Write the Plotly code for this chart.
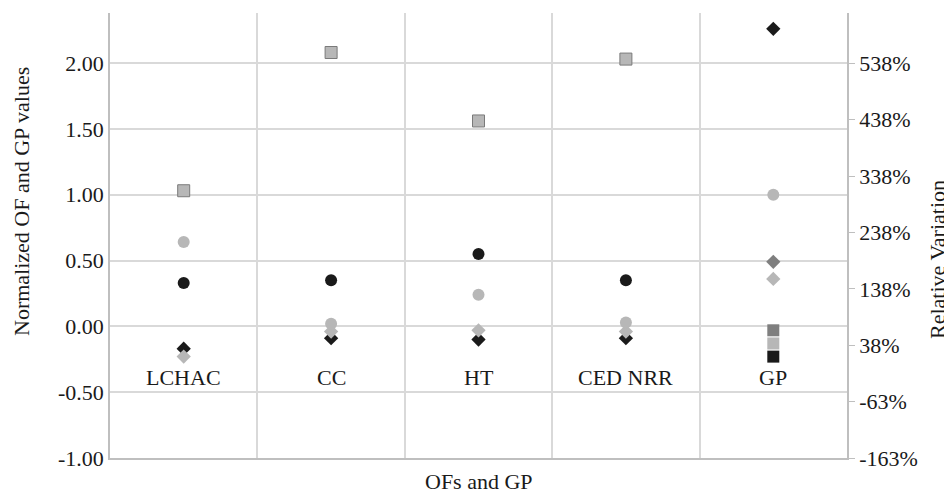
import plotly.graph_objects as go

categories = ["LCHAC", "CC", "HT", "CED NRR", "GP"]

black_diamond = [-0.17, -0.09, -0.10, -0.09, 2.26]
light_diamond = [-0.23, -0.04, -0.03, -0.04, 0.36]
black_circle = [0.33, 0.35, 0.55, 0.35, None]
light_circle = [0.64, 0.02, 0.24, 0.03, 1.00]
gray_square = [1.03, 2.08, 1.56, 2.03, None]
dark_diamond = [None, None, None, None, 0.49]
gp_dark_square = [None, None, None, None, -0.03]
gp_light_square = [None, None, None, None, -0.13]
gp_black_square = [None, None, None, None, -0.23]

left_ticks = [-1.0, -0.5, 0.0, 0.5, 1.0, 1.5, 2.0]
left_ticktext = ["-1.00", "-0.50", "0.00", "0.50", "1.00", "1.50", "2.00"]
right_ticks = [-1.625, -0.625, 0.375, 1.375, 2.375, 3.375, 4.375, 5.375]
right_ticktext = ["-163%", "-63%", "38%", "138%", "238%", "338%", "438%", "538%"]

FONT = "Liberation Serif, Times New Roman, serif"
FS = 22
BLACK = "#1a1a1a"
LIGHT = "#b7b7b7"
DARK = "#7f7f7f"
GRID = "#d9d9d9"
AXIS = "#bfbfbf"

# page body has an 8px default margin; figure is sized to compensate
W, H = 944, 486
ML, MR, MT, MB = 102, 105, 5, 36
PH = H - MT - MB

xs = list(range(len(categories)))

fig = go.Figure()

def add(vals, symbol, size, color, name, line_color=None):
    fig.add_trace(go.Scatter(
        x=xs, y=vals, mode="markers", name=name,
        marker=dict(symbol=symbol, size=size, color=color,
                    line=dict(width=1 if line_color else 0, color=line_color or color)),
        showlegend=False, cliponaxis=False))

add(black_diamond, "diamond", 11, BLACK, "Black diamond")
add(light_diamond, "diamond", 11, LIGHT, "Light diamond")
add(dark_diamond, "diamond", 11, DARK, "Dark diamond")
add(black_circle, "circle", 12, BLACK, "Black circle")
add(light_circle, "circle", 12, LIGHT, "Light circle")
add(gray_square, "square", 12, LIGHT, "Gray square", line_color="#7a7a7a")
add(gp_dark_square, "square", 12, DARK, "GP dark square")
add(gp_light_square, "square", 12, LIGHT, "GP light square")
add(gp_black_square, "square", 12, BLACK, "GP black square")

fig.add_trace(go.Scatter(x=[None], y=[None], yaxis="y2", showlegend=False, hoverinfo="skip"))

fig.update_layout(
    width=W, height=H,
    margin=dict(l=ML, r=MR, t=MT, b=MB, autoexpand=False),
    paper_bgcolor="white", plot_bgcolor="white",
    font=dict(family=FONT, size=FS, color=BLACK),
    xaxis=dict(range=[-0.5, 4.5], tickvals=[0.5, 1.5, 2.5, 3.5], showticklabels=False,
               showgrid=True, gridcolor=GRID, gridwidth=1.5, zeroline=False,
               showline=True, linecolor=AXIS, linewidth=1.5, ticks=""),
    yaxis=dict(range=[-1.0, 2.38], tickvals=left_ticks, ticktext=left_ticktext,
               showgrid=True, gridcolor=GRID, gridwidth=1.5, zeroline=False,
               showline=True, linecolor=AXIS, linewidth=1.5, ticks="", ticklen=0,
               tickfont=dict(family=FONT, size=FS, color=BLACK)),
    yaxis2=dict(range=[-1.625, 6.266], tickvals=right_ticks, ticktext=right_ticktext,
                overlaying="y", side="right", showgrid=False, zeroline=False,
                showline=True, linecolor=AXIS, linewidth=1.5,
                ticks="outside", ticklen=6, tickcolor=AXIS, tickwidth=1,
                tickfont=dict(family=FONT, size=FS, color=BLACK)),
)

for i, c in enumerate(categories):
    fig.add_annotation(x=i, y=-0.39, xref="x", yref="y", text=c, showarrow=False,
                       font=dict(family=FONT, size=FS, color=BLACK))

fig.add_annotation(x=0.5, y=0, xref="paper", yref="paper", yanchor="middle", yshift=-23,
                   text="OFs and GP", showarrow=False,
                   font=dict(family=FONT, size=FS, color=BLACK))
fig.add_annotation(x=0, y=(MT + PH - (202 - 8)) / PH, xref="paper", yref="paper",
                   xanchor="center", yanchor="middle", xshift=-(110 - 22),
                   text="Normalized OF and GP values", textangle=-90, showarrow=False,
                   font=dict(family=FONT, size=FS, color=BLACK))
fig.add_annotation(x=1, y=(MT + PH - (260 - 8)) / PH, xref="paper", yref="paper",
                   xanchor="center", yanchor="middle", xshift=(937 - 847),
                   text="Relative Variation", textangle=-90, showarrow=False,
                   font=dict(family=FONT, size=FS, color=BLACK))

fig.write_html("out.html")
